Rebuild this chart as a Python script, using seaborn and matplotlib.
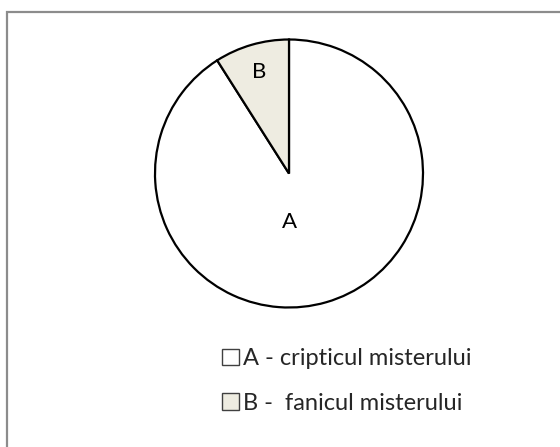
import matplotlib
matplotlib.use("Agg")
import matplotlib.pyplot as plt
import seaborn as sns
from matplotlib.patches import Rectangle

sns.set_theme(style="white")
plt.rcParams['font.family'] = ['Lato', 'DejaVu Sans']

categories = ["A", "B"]
values = [91, 9]
legend_labels = ["A - cripticul misterului", "B -  fanicul misterului"]
colors = ["#FFFFFF", "#EEECE1"]

W, H = 560, 447
fig = plt.figure(figsize=(W / 100, H / 100), dpi=100)
fig.patch.set_facecolor("white")

# outer chart frame (extends beyond right/bottom edge)
fig.patches.append(Rectangle((7 / W, -0.1), 1.2, 1 - 12 / H + 0.1,
                             transform=fig.transFigure, fill=False,
                             edgecolor="#8C8C8C", linewidth=1.6))

cx, cy, r = 289, 173.5, 134
ax = fig.add_axes([(cx - r) / W, (H - cy - r) / H, 2 * r / W, 2 * r / H])
wedges, texts = ax.pie(values, labels=categories, colors=colors,
                       startangle=90, counterclock=False, labeldistance=0.79,
                       wedgeprops=dict(edgecolor="black", linewidth=1.6),
                       textprops=dict(fontsize=16, color="black",
                                      ha="center", va="center"))
texts[0].set_position((0.0, -0.36))
ax.set_xlim(-1.0, 1.0)
ax.set_ylim(-1.0, 1.0)
ax.set_aspect("equal")
ax.axis("off")

handles = [Rectangle((0, 0), 1, 1, facecolor=c, edgecolor="#404040", linewidth=1.0)
           for c in colors]
fig.legend(handles, legend_labels, loc="center", bbox_to_anchor=(347 / W, 1 - 381 / H),
           frameon=False, fontsize=17, handlelength=0.7, handleheight=0.7,
           handletextpad=0.2, labelspacing=1.0)

fig.savefig("out.png", dpi=100, facecolor="white")
